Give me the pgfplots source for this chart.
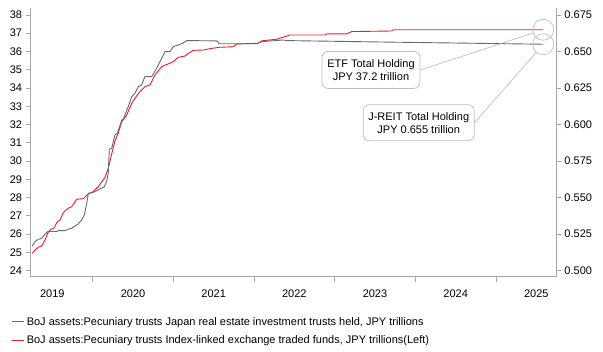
\documentclass[border=0pt]{standalone}
\usepackage{pgfplots}
\pgfplotsset{compat=1.18}
\usepackage{fontspec}
\setmainfont{Liberation Sans}
\definecolor{etfred}{RGB}{235,28,36}
\definecolor{reitgrey}{RGB}{105,105,105}
\definecolor{axgrey}{RGB}{166,166,166}
\definecolor{annogrey}{RGB}{190,190,190}

\begin{document}
\begin{tikzpicture}
\pgfplotsset{
  common/.style={
    scale only axis, width=525.5pt, height=268.7pt,
    xmin=2019.229, xmax=2025.744,
    axis line style={axgrey, line width=0.8pt},
    tick style={axgrey, line width=0.8pt},
    tick align=outside,
    major tick length=5pt,
    ticklabel style={font=\fontsize{11}{13}\selectfont, text=black},
    /pgf/number format/assume math mode=true,
    clip=false,
  }
}
\begin{axis}[common, name=ax,
  axis x line*=bottom, axis y line*=left,
  ymin=23.67, ymax=38.38,
  ytick={24,25,...,38},
  xtick={2020,2021,2022,2023,2024,2025},
  xticklabels={},
  extra x ticks={2019.5,2020.5,2021.5,2022.5,2023.5,2024.5,2025.5},
  extra x tick labels={2019,2020,2021,2022,2023,2024,2025},
  extra x tick style={major tick length=0pt, xticklabel style={yshift=-10pt}},
]
\addplot[etfred, line width=0.9pt] coordinates {
(2019.251,24.95) (2019.285,25.13) (2019.326,25.28) (2019.368,25.35)
(2019.409,25.68) (2019.442,26.05) (2019.471,26.23) (2019.524,26.35)
(2019.554,26.63) (2019.595,26.78) (2019.636,27.18) (2019.697,27.42)
(2019.740,27.50) (2019.802,27.91) (2019.883,27.94) (2019.945,28.20)
(2020.007,28.33) (2020.069,28.60) (2020.119,28.90) (2020.152,29.10)
(2020.193,29.60) (2020.236,30.40) (2020.276,31.10) (2020.317,31.52)
(2020.360,32.16) (2020.422,32.52) (2020.484,33.17) (2020.524,33.44)
(2020.586,33.80) (2020.648,34.07) (2020.710,34.17) (2020.772,34.71)
(2020.855,35.17) (2020.937,35.32) (2020.999,35.44) (2021.061,35.68)
(2021.144,35.75) (2021.185,35.90) (2021.247,36.06) (2021.371,36.08)
(2021.475,36.17) (2021.578,36.23) (2021.743,36.26) (2021.785,36.41)
(2022.053,36.45) (2022.095,36.58) (2022.281,36.67) (2022.446,36.90)
(2022.880,36.90) (2022.901,36.96) (2023.149,36.96) (2023.211,37.09)
(2023.707,37.12) (2023.727,37.19) (2025.586,37.19)
};
\end{axis}
\begin{axis}[common,
  axis x line=none, axis y line*=right,
  ymin=0.4959, ymax=0.6798,
  ytick={0.500,0.525,...,0.675},
  yticklabel style={/pgf/number format/.cd, fixed, fixed zerofill, precision=3},
  legend style={at={(-0.0358,-0.142)}, anchor=north west, draw=none, fill=none,
    font=\fontsize{11}{13}\selectfont, inner sep=0pt, row sep=5pt,
    legend cell align=left},
  legend image code/.code={\draw[#1, line width=0.9pt] (0pt,0pt) -- (12pt,0pt);},
]
\addplot[reitgrey, line width=0.9pt] coordinates {
(2019.251,0.5169) (2019.285,0.5199) (2019.326,0.5215) (2019.368,0.5221)
(2019.409,0.5250) (2019.442,0.5268) (2019.554,0.5268) (2019.574,0.5274)
(2019.657,0.5274) (2019.697,0.5284) (2019.740,0.5290) (2019.781,0.5306)
(2019.821,0.5320) (2019.864,0.5348) (2019.896,0.5381) (2019.926,0.5461)
(2019.945,0.5530) (2020.007,0.5536) (2020.050,0.5548) (2020.103,0.5564)
(2020.140,0.5571) (2020.174,0.5613) (2020.193,0.5666) (2020.206,0.5831)
(2020.236,0.5838) (2020.276,0.5929) (2020.305,0.5940) (2020.360,0.6031)
(2020.379,0.6036) (2020.441,0.6123) (2020.484,0.6191) (2020.524,0.6214)
(2020.565,0.6259) (2020.607,0.6271) (2020.648,0.6328) (2020.731,0.6328)
(2020.793,0.6385) (2020.855,0.6454) (2020.896,0.6499) (2020.958,0.6499)
(2020.999,0.6533) (2021.061,0.6545) (2021.116,0.6556) (2021.165,0.6575)
(2021.537,0.6573) (2021.570,0.6553) (2022.033,0.6553) (2022.095,0.6568)
(2022.363,0.6579) (2022.405,0.6575) (2023.603,0.6565) (2025.586,0.6550)
};
\addlegendentry{BoJ assets:Pecuniary trusts Japan real estate investment trusts held, JPY trillions}
\addlegendimage{etfred}
\addlegendentry{BoJ assets:Pecuniary trusts Index-linked exchange traded funds, JPY trillions(Left)}
\node[circle, draw=annogrey, line width=0.7pt, minimum size=21pt, inner sep=0pt] (c1) at (axis cs:2025.586,0.6649) {};
\node[circle, draw=annogrey, line width=0.7pt, minimum size=21pt, inner sep=0pt] (c2) at (axis cs:2025.586,0.6550) {};
\node[draw=annogrey, line width=0.7pt, rounded corners=6pt, fill=white, align=center,
  minimum width=98pt, minimum height=37pt, inner sep=2pt, font=\fontsize{11}{13}\selectfont]
  (b1) at (axis cs:2023.450,0.6374) {ETF Total Holding\\JPY 37.2 trillion};
\node[draw=annogrey, line width=0.7pt, rounded corners=6pt, fill=white, align=center,
  minimum width=111pt, minimum height=36pt, inner sep=2pt, font=\fontsize{11}{13}\selectfont]
  (b2) at (axis cs:2024.042,0.6013) {J-REIT Total Holding\\JPY 0.655 trillion};
\end{axis}
\draw[annogrey, line width=0.7pt] (b1.east) -- (c1);
\draw[annogrey, line width=0.7pt] (b2.east) -- (c2);
\pgfresetboundingbox
\useasboundingbox ([xshift=-30.5pt,yshift=-75.3pt]ax.south west) rectangle ([xshift=47pt,yshift=8pt]ax.north east);
\end{tikzpicture}
\end{document}
